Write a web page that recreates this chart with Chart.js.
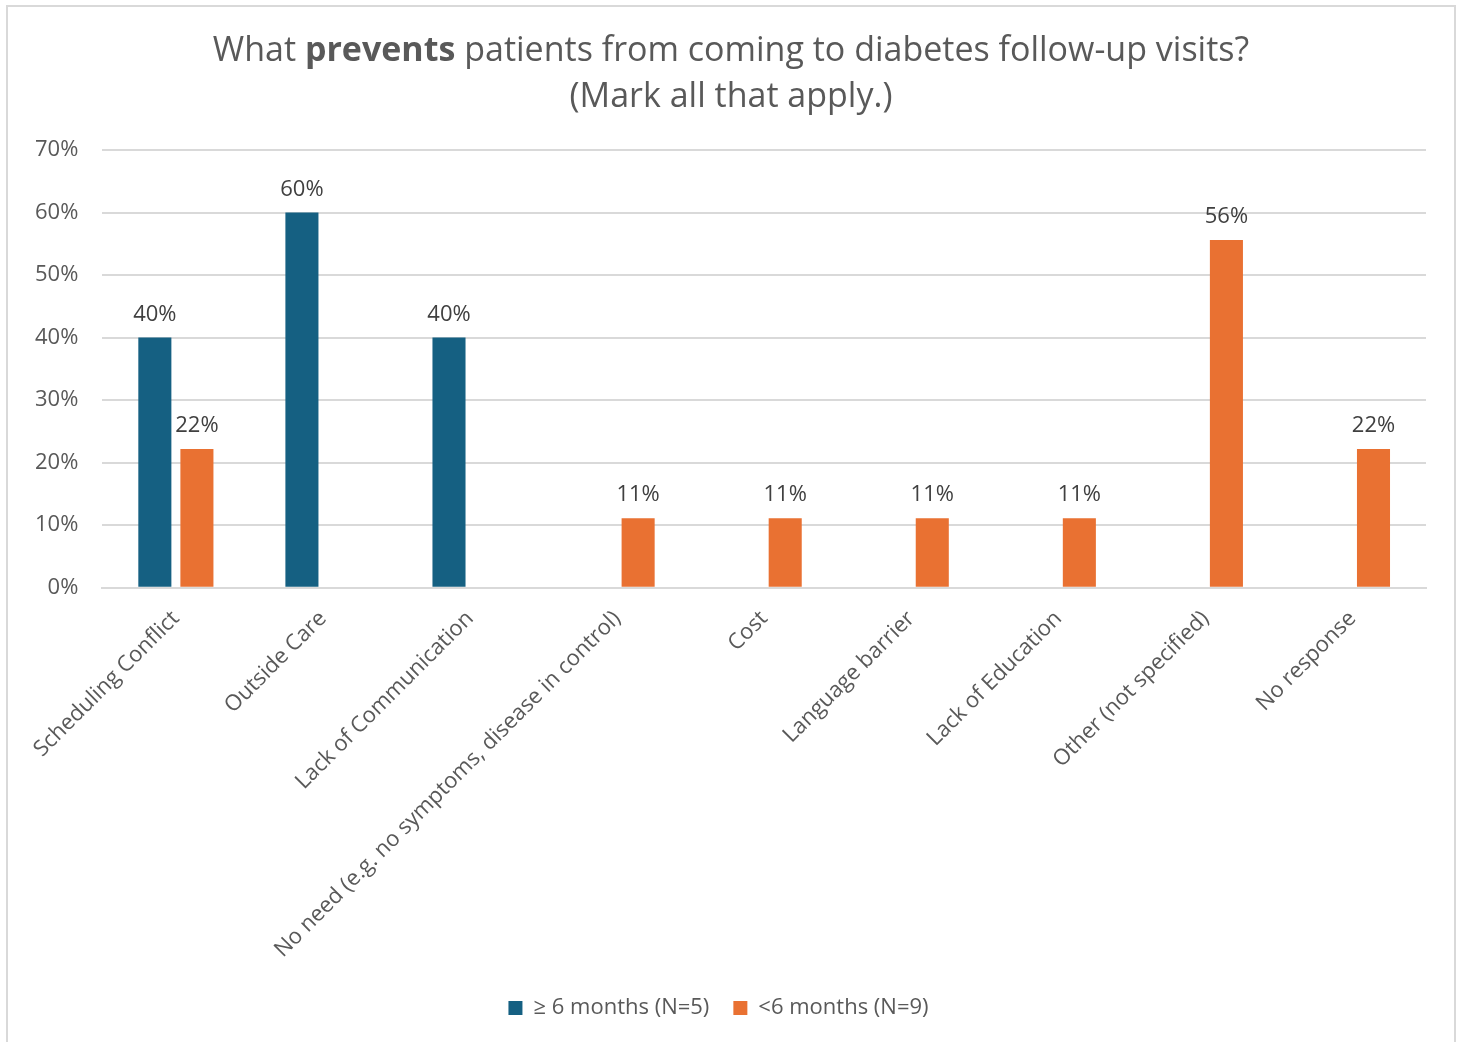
<!DOCTYPE html>
<html>
<head>
<meta charset="utf-8">
<script src="https://cdn.jsdelivr.net/npm/chart.js@4/dist/chart.umd.min.js"></script>
<style>
  html, body { margin: 0; padding: 0; background: #ffffff; }
  #frame { position: absolute; left: 6px; top: 5px; width: 1446px; height: 1040px; border: 2px solid #d9d9d9; background: #fff; }
  #wrap { position: absolute; left: 0; top: 0; width: 1446px; height: 1040px; }
</style>
</head>
<body>
<div id="frame"><div id="wrap"><canvas id="c"></canvas></div></div>
<script>
const categories = [
  "Scheduling Conflict",
  "Outside Care",
  "Lack of Communication",
  "No need (e.g. no symptoms, disease in control)",
  "Cost",
  "Language barrier",
  "Lack of Education",
  "Other (not specified)",
  "No response"
];
const seriesNames = ["\u2265 6 months (N=5)", "<6 months (N=9)"];
const over6Months = [40, 60, 40, 0, 0, 0, 0, 0, 0];
const under6Months = [22.2, 0, 0, 11.1, 11.1, 11.1, 11.1, 55.6, 22.2];
const yTicks = [0, 10, 20, 30, 40, 50, 60, 70];
const titleParts = [["What ", false], ["prevents", true], [" patients from coming to diabetes follow-up visits?", false]];
const titleLine2 = "(Mark all that apply.)";

const FONT = "'Open Sans', 'Liberation Sans', sans-serif";

const titlePlugin = {
  id: 'mixedTitle',
  afterDraw(chart) {
    const ctx = chart.ctx;
    ctx.save();
    ctx.fillStyle = '#595959';
    ctx.textBaseline = 'middle';
    const size = 34;
    const reg = `400 ${size}px ${FONT}`, bold = `700 ${size}px ${FONT}`;
    let total = 0;
    titleParts.forEach(([t, b]) => { ctx.font = b ? bold : reg; total += ctx.measureText(t).width; });
    const cx = 723;
    let x = cx - total / 2;
    ctx.textAlign = 'left';
    titleParts.forEach(([t, b]) => { ctx.font = b ? bold : reg; ctx.fillText(t, x, 44); x += ctx.measureText(t).width; });
    ctx.font = reg;
    ctx.textAlign = 'center';
    ctx.fillText(titleLine2, cx, 90);
    ctx.restore();
  }
};

const labelPlugin = {
  id: 'barLabels',
  afterDatasetsDraw(chart) {
    const ctx = chart.ctx;
    ctx.save();
    ctx.font = `400 22px ${FONT}`;
    ctx.fillStyle = '#404040';
    ctx.textAlign = 'center';
    ctx.textBaseline = 'alphabetic';
    chart.data.datasets.forEach((ds, di) => {
      const meta = chart.getDatasetMeta(di);
      meta.data.forEach((bar, i) => {
        const v = ds.data[i];
        if (!v) return;
        ctx.fillText(Math.round(v) + '%', bar.x, bar.y - 17);
      });
    });
    ctx.restore();
  }
};

new Chart(document.getElementById('c'), {
  type: 'bar',
  data: {
    labels: categories,
    datasets: [
      { label: seriesNames[0], data: over6Months, backgroundColor: '#156082', categoryPercentage: 0.572, barPercentage: 0.786 },
      { label: seriesNames[1], data: under6Months, backgroundColor: '#E97132', categoryPercentage: 0.572, barPercentage: 0.786 }
    ]
  },
  options: {
    responsive: true,
    maintainAspectRatio: false,
    animation: false,
    layout: { padding: { top: 143, right: 28, left: 3, bottom: 18 } },
    plugins: {
      title: { display: false },
      tooltip: { enabled: false },
      legend: {
        position: 'bottom',
        labels: {
          color: '#595959',
          font: { family: FONT, size: 22 },
          boxWidth: 14, boxHeight: 14, padding: 24
        }
      }
    },
    scales: {
      x: {
        grid: { display: false },
        border: { display: true, color: '#d9d9d9', width: 2 },
        ticks: {
          color: '#595959',
          font: { family: FONT, size: 22 },
          maxRotation: 45, minRotation: 45, autoSkip: false, padding: 10
        }
      },
      y: {
        min: 0, max: 70,
        afterBuildTicks(axis) { axis.ticks = yTicks.map(v => ({ value: v })); },
        grid: { color: '#d9d9d9', lineWidth: 2, drawTicks: false },
        border: { display: false },
        ticks: {
          color: '#595959',
          font: { family: FONT, size: 22 },
          padding: 24,
          callback: v => v + '%'
        }
      }
    }
  },
  plugins: [titlePlugin, labelPlugin]
});
</script>
</body>
</html>
